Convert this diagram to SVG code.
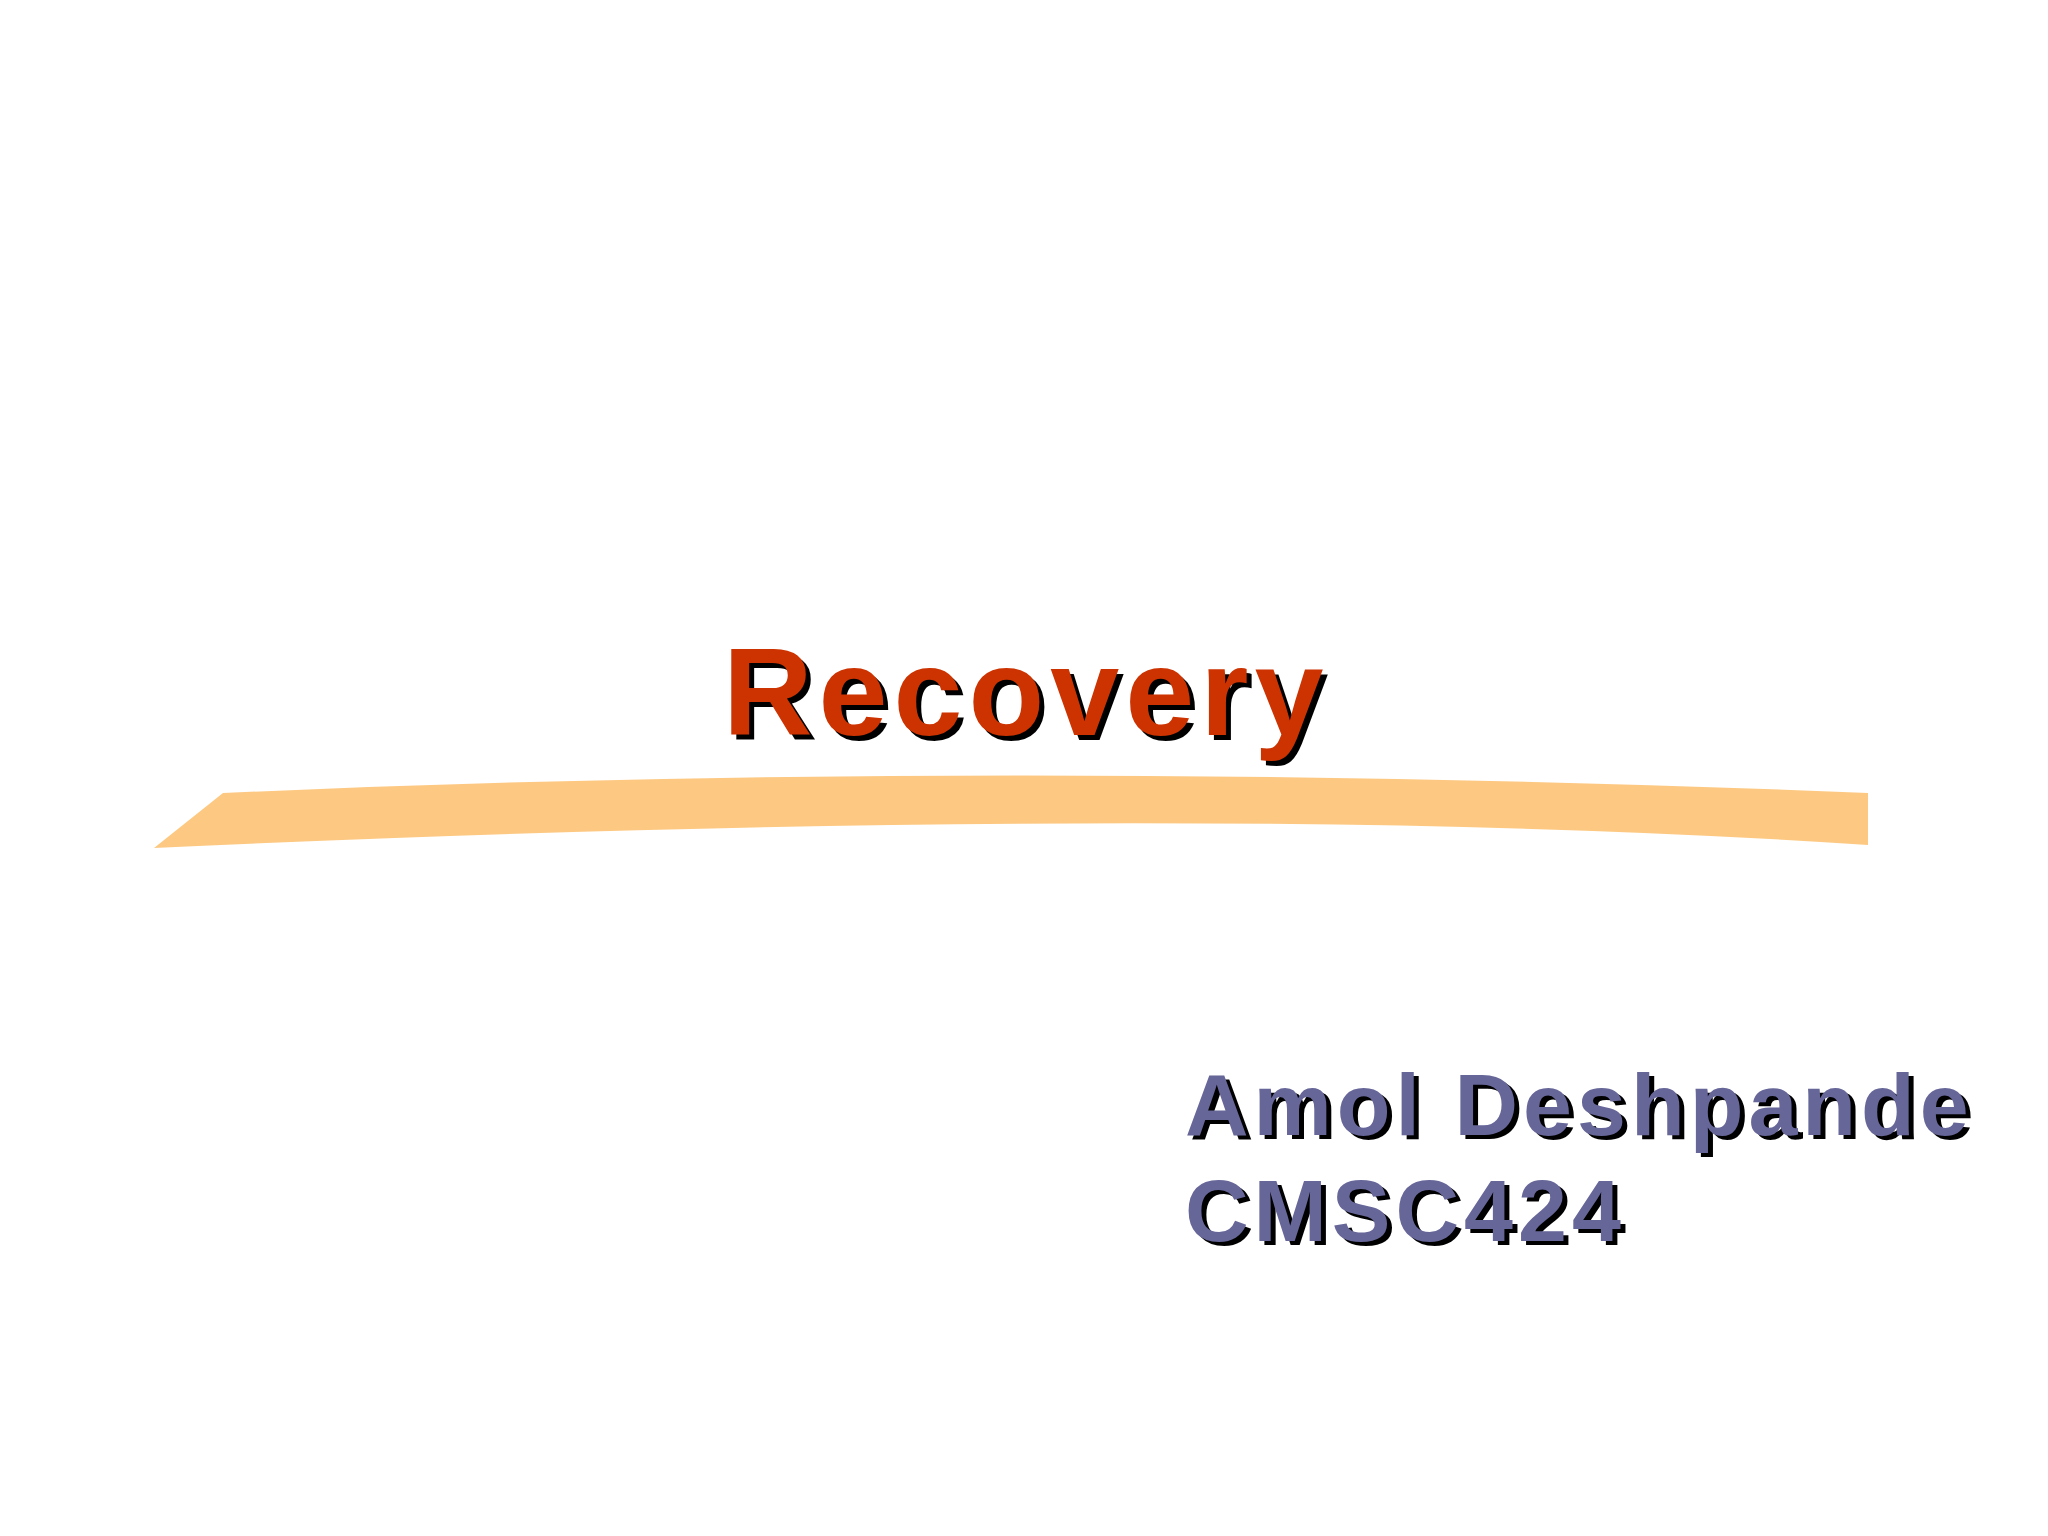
<svg xmlns="http://www.w3.org/2000/svg" width="2048" height="1536" viewBox="0 0 2048 1536">
<style>
.t{font-family:"Liberation Sans",Arial,sans-serif;font-weight:bold}
.a{font-size:88px;letter-spacing:5px}
</style>
<rect width="2048" height="1536" fill="#ffffff"/>
<g id="swoosh">
<path d="M154,848 L223,793 Q1000,758 1868,793 L1868,845 Q1200,800 154,848 Z" fill="#FDC982"/>
</g>
<g id="title">
<text class="t" x="728" y="740" font-size="124" letter-spacing="6" fill="#000">Recovery</text>
<text class="t" x="723" y="735" font-size="124" letter-spacing="6" fill="#CC3300">Recovery</text>
</g>
<g id="author">
<text class="t a" x="1190" y="1139" fill="#000">Amol Deshpande</text>
<text class="t a" x="1185" y="1135" fill="#666699">Amol Deshpande</text>
<text class="t a" x="1190" y="1245" letter-spacing="10" fill="#000">CMSC424</text>
<text class="t a" x="1185" y="1241" letter-spacing="10" fill="#666699">CMSC424</text>
</g>
</svg>
